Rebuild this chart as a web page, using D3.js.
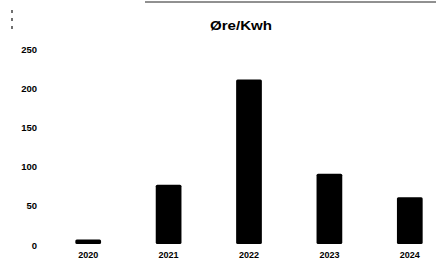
<!DOCTYPE html>
<html><head><meta charset="utf-8">
<script src="https://cdn.jsdelivr.net/npm/d3@7"></script>
<style>body{margin:0;background:#fff}svg{display:block}</style>
</head><body>
<script>
const categories = ["2020","2021","2022","2023","2024"];
const values = [7, 77, 211, 91, 61];
const yTicks = [0, 50, 100, 150, 200, 250];
const title = "Øre/Kwh";

const W = 441, H = 264;
const svg = d3.select("body").append("svg").attr("width", W).attr("height", H);

const x = d3.scaleBand().domain(categories).range([48, 450]).paddingInner(0.68).paddingOuter(0.34);
const y = d3.scaleLinear().domain([0, 250]).range([245, 49]);

// scan artifacts at top
svg.append("line").attr("x1",145).attr("x2",436).attr("y1",2).attr("y2",2).attr("stroke","#222").attr("stroke-width",1);
svg.append("line").attr("x1",12).attr("x2",12).attr("y1",10).attr("y2",33).attr("stroke","#111").attr("stroke-width",1.2).attr("stroke-dasharray","3,5");

svg.append("text").attr("x",241).attr("y",30).attr("text-anchor","middle")
  .attr("font-family","Liberation Sans, Arial, sans-serif").attr("font-weight","bold")
  .attr("font-size",12).attr("textLength",62).attr("lengthAdjust","spacingAndGlyphs").text(title);

const yAxis = d3.axisLeft(y).tickValues(yTicks).tickSize(0).tickPadding(0);
const gy = svg.append("g").attr("transform","translate(37,0)").call(yAxis);
gy.select(".domain").remove();
gy.selectAll("text").attr("font-family","Liberation Sans, Arial, sans-serif").attr("font-weight","bold")
  .attr("font-size",9.5).attr("fill","#000");

const xAxis = d3.axisBottom(x).tickSize(0).tickPadding(0);
const gx = svg.append("g").attr("transform","translate(0,252)").call(xAxis);
gx.select(".domain").remove();
gx.selectAll("text").attr("font-family","Liberation Sans, Arial, sans-serif").attr("font-weight","bold")
  .attr("font-size",9).attr("fill","#000");

svg.append("g").selectAll("rect").data(values).join("rect")
  .attr("x",(d,i)=>x(categories[i]))
  .attr("width",x.bandwidth())
  .attr("y",d=>y(d))
  .attr("height",d=>y(0)-y(d)-1)
  .attr("rx",1.5)
  .attr("fill","#000");
</script>
</body></html>
